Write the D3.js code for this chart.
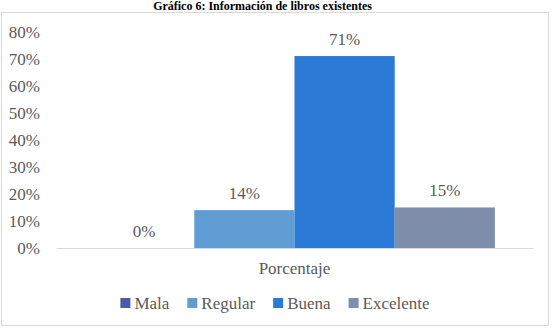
<!DOCTYPE html>
<html><head><meta charset="utf-8">
<script src="https://cdn.jsdelivr.net/npm/d3@7"></script>
</head><body style="margin:0;background:#fff">
<svg id="c" width="552" height="334" font-family="Liberation Serif" style="display:block"></svg>
<script>
const title = "Gráfico 6: Información de libros existentes";
const category = ["Porcentaje"];
const series = ["Mala", "Regular", "Buena", "Excelente"];
const values = [0, 14, 71, 15];
const colors = ["#4a5ba8", "#5f9dd4", "#2b7bd6", "#7f8fab"];
const yTicks = [0, 10, 20, 30, 40, 50, 60, 70, 80];

const FF = "Liberation Serif";
const svg = d3.select("#c");
const txt = "#595959";
svg.append("rect").attr("x", 1.5).attr("y", 12.5).attr("width", 547).attr("height", 313)
  .attr("fill", "#fff").attr("stroke", "#d9d9d9").attr("stroke-width", 1);
svg.append("text").attr("x", 262.5).attr("y", 9.5).attr("text-anchor", "middle").attr("font-family", FF)
  .attr("font-size", 12).attr("font-weight", "bold").attr("fill", "#000").text(title);

const x0 = d3.scaleBand().domain(category).range([56, 533]).paddingInner(0).paddingOuter(0.095);
const x1 = d3.scaleBand().domain(series).range([0, x0.bandwidth()]).padding(0);
const y = d3.scaleLinear().domain([0, 80]).range([248, 31.7]);

const ya = svg.append("g").attr("transform", "translate(40,0)")
  .call(d3.axisLeft(y).tickValues(yTicks).tickSize(0).tickPadding(0).tickFormat(d => d + "%"));
ya.attr("font-family", FF).attr("font-size", 17);
ya.select(".domain").remove();
ya.selectAll("text").attr("fill", txt);

const xa = svg.append("g").attr("transform", "translate(0,248)")
  .call(d3.axisBottom(x0).tickSize(0).tickPadding(14));
xa.attr("font-family", FF).attr("font-size", 17);
xa.select(".domain").attr("stroke", "#d9d9d9");
xa.selectAll("text").attr("fill", txt);

const g = svg.append("g").attr("transform", `translate(${x0(category[0])},0)`);
g.selectAll("rect").data(values).join("rect")
  .attr("x", (d, i) => x1(series[i])).attr("width", x1.bandwidth())
  .attr("y", d => y(d)).attr("height", d => y(0) - y(d)).attr("fill", (d, i) => colors[i]);
g.selectAll("text").data(values).join("text")
  .attr("x", (d, i) => x1(series[i]) + x1.bandwidth() / 2).attr("y", d => y(d) - 11)
  .attr("text-anchor", "middle").attr("font-family", FF).attr("font-size", 17).attr("fill", txt).text(d => d + "%");

const leg = svg.append("g");
let cx = 0;
series.forEach((s, i) => {
  const it = leg.append("g").attr("transform", `translate(${cx},0)`);
  it.append("rect").attr("x", 0).attr("y", 298).attr("width", 10).attr("height", 10).attr("fill", colors[i]);
  const t = it.append("text").attr("x", 14).attr("y", 309).attr("font-family", FF).attr("font-size", 17).attr("fill", txt).text(s);
  cx += 14 + t.node().getComputedTextLength() + 18;
});
const lw = cx - 18;
leg.attr("transform", `translate(${275 - lw / 2},0)`);
</script>
</body></html>
